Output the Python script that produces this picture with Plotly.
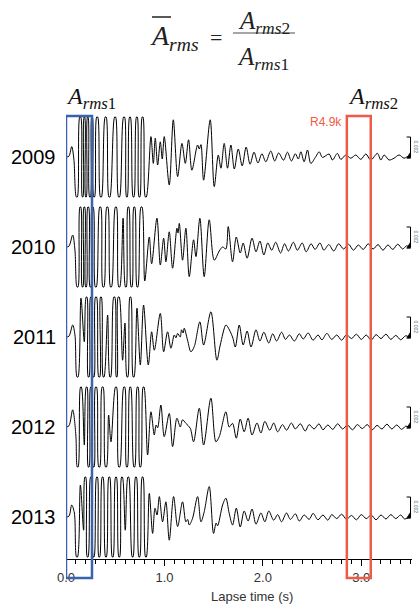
import plotly.graph_objects as go

# ---------------- data ----------------
years = ["2009", "2010", "2011", "2012", "2013"]
time_ticks = [0.0, 1.0, 2.0, 3.0]
time_tick_text = ["0.0", "1.0", "2.0", "3.0"]
box1_t = [0.0, 0.264]      # A_rms1 window (s)
box2_t = [2.853, 3.096]    # A_rms2 window (s)
box2_label = "R4.9k"
scale_label = "0.002"

# (lapse time s, amplitude normalised to clip level = 1)
wave_2009 = [
    (0.000, 0.0), (0.030, 0.02), (0.058, 0.26), (0.080, -0.05),
    (0.105, -1), (0.115, -1), (0.140, 1), (0.150, 1), (0.166, -1), (0.172, -1),
    (0.184, 1), (0.190, 1), (0.200, -1), (0.206, -1), (0.218, 1), (0.224, 1),
    (0.240, -1), (0.248, -1), (0.262, 1), (0.268, 1), (0.282, -1), (0.290, -1),
    (0.312, 1), (0.322, 1), (0.350, -1), (0.360, -1), (0.398, 1), (0.408, 1),
    (0.436, -1), (0.446, -1), (0.494, 1), (0.504, 1), (0.534, -1), (0.544, -1),
    (0.585, 1), (0.595, 1), (0.615, -1), (0.622, -1), (0.646, 1), (0.654, 1),
    (0.682, -1), (0.690, -1), (0.716, 1), (0.724, 1), (0.742, -1), (0.750, -1),
    (0.774, 1), (0.782, 1), (0.806, -1), (0.816, -1),
    (0.863, 0.51), (0.887, -0.16), (0.907, 0.47), (0.931, -0.20), (0.958, 0.38),
    (0.978, -0.05), (0.998, 0.51), (1.049, -0.70), (1.090, 0.93), (1.134, -0.49),
    (1.178, 0.34), (1.212, -0.16), (1.245, 0.43), (1.279, -0.33), (1.337, 0.30),
    (1.354, 0.20), (1.371, 0.31), (1.398, -0.58), (1.465, 0.93), (1.506, -0.74),
    (1.547, 0.05), (1.574, -0.28), (1.607, 0.34), (1.641, -0.28), (1.675, 0.30),
    (1.71, -0.30), (1.75, 0.20), (1.79, -0.22), (1.83, 0.25), (1.87, -0.18),
    (1.91, 0.12), (1.95, -0.15), (1.99, 0.08), (2.03, -0.12), (2.08, 0.15),
    (2.12, -0.10), (2.16, 0.10), (2.21, -0.08), (2.25, 0.12), (2.29, -0.10),
    (2.33, 0.08), (2.36, -0.05), (2.386, 0.13), (2.419, -0.12), (2.453, 0.175),
    (2.487, -0.16), (2.538, 0.01), (2.572, 0.13), (2.605, -0.01), (2.673, 0.075),
    (2.707, -0.075), (2.757, 0.09), (2.792, -0.06), (2.843, 0.05), (2.893, -0.03),
    (2.944, 0.05), (2.995, -0.06), (3.046, 0.075), (3.096, -0.075), (3.164, 0.09),
    (3.198, -0.075), (3.232, 0.05), (3.282, -0.075), (3.333, -0.03), (3.384, 0.05),
    (3.434, -0.03), (3.468, 0.01), (3.485, 0.025),
]

wave_2010 = [
    (0.000, 0.0), (0.030, 0.02), (0.068, 0.30), (0.091, -0.08),
    (0.112, -1), (0.122, -1), (0.142, 1), (0.150, 1), (0.165, -1), (0.172, -1),
    (0.183, 1), (0.190, 1), (0.200, -1), (0.207, -1), (0.222, 1), (0.230, 1),
    (0.244, -1), (0.252, -1), (0.266, 1), (0.276, 1), (0.298, -1), (0.308, -1),
    (0.343, 1), (0.353, 1), (0.375, -1), (0.385, -1), (0.415, 1), (0.425, 1),
    (0.452, -1), (0.462, -1), (0.502, 1), (0.512, 1), (0.536, -1), (0.546, -1),
    (0.580, 0.72), (0.604, -1), (0.612, -1), (0.630, 1), (0.638, 1),
    (0.662, -1), (0.670, -1), (0.690, 1), (0.698, 1), (0.722, -1), (0.730, -1),
    (0.762, 1), (0.772, 1), (0.800, -0.85),
    (0.846, 0.25), (0.870, -0.42), (0.924, 0.72), (0.958, -0.45), (0.992, 0.22),
    (1.015, -0.37), (1.049, 0.38), (1.083, -0.53), (1.127, 0.47), (1.138, 0.35),
    (1.151, 0.59), (1.184, -0.33), (1.218, 0.47), (1.252, -0.74), (1.296, 0.18),
    (1.320, -0.24), (1.360, 0.72), (1.404, -0.74), (1.455, 0.68), (1.506, -0.33),
    (1.557, -0.10), (1.591, 0.0), (1.624, -0.05), (1.648, 0.51), (1.692, -0.37),
    (1.73, 0.25), (1.77, -0.15), (1.80, 0.10), (1.84, -0.28), (1.89, 0.22),
    (1.93, -0.12), (1.97, 0.15), (2.01, -0.20), (2.05, 0.10), (2.09, -0.08),
    (2.13, 0.12), (2.18, -0.15), (2.22, 0.08), (2.26, -0.10), (2.31, 0.12),
    (2.35, -0.08), (2.40, 0.10), (2.44, -0.12), (2.49, 0.08), (2.53, -0.06),
    (2.58, 0.10), (2.62, -0.08), (2.67, 0.06), (2.72, -0.10), (2.77, 0.08),
    (2.82, -0.05), (2.87, 0.07), (2.92, -0.08), (2.97, 0.05), (3.02, -0.06),
    (3.07, 0.08), (3.12, -0.05), (3.17, 0.06), (3.22, -0.08), (3.27, 0.05),
    (3.32, -0.06), (3.37, 0.07), (3.42, -0.05), (3.46, 0.03), (3.485, 0.0),
]

wave_2011 = [
    (0.000, 0.0), (0.030, 0.02), (0.068, 0.30), (0.091, 0.05),
    (0.112, -1), (0.122, -1), (0.152, 0.97), (0.186, -0.12),
    (0.205, 1), (0.213, 1), (0.226, -1), (0.234, -1), (0.250, 1), (0.258, 1),
    (0.277, -1), (0.285, -1), (0.300, 1), (0.310, 1), (0.333, -1), (0.343, -1),
    (0.351, 1), (0.359, 1), (0.378, -1), (0.386, -1), (0.423, 0.55),
    (0.446, -1), (0.454, -1), (0.486, 1), (0.496, 1), (0.512, -1), (0.518, -1),
    (0.530, 1), (0.540, 1), (0.575, -0.58), (0.599, 0.35), (0.620, -1), (0.628, -1),
    (0.650, 1), (0.658, 1), (0.683, -1), (0.691, -1),
    (0.721, 0.72), (0.755, -0.70), (0.788, 0.80), (0.836, -0.70), (0.870, 0.13),
    (0.897, -0.33), (0.958, 0.59), (0.992, -0.37), (1.032, 0.13), (1.066, -0.28),
    (1.100, 0.05), (1.117, -0.02), (1.134, 0.09), (1.160, 0.0), (1.174, 0.18),
    (1.190, 0.10), (1.201, 0.22), (1.235, -0.08), (1.269, -0.37), (1.303, -0.24),
    (1.360, 0.38), (1.398, -0.20), (1.472, 0.63), (1.533, -0.58), (1.567, -0.20),
    (1.624, 0.30), (1.641, 0.26), (1.692, 0.0),
    (1.72, -0.25), (1.76, 0.30), (1.80, -0.20), (1.84, 0.15), (1.88, -0.25),
    (1.93, 0.18), (1.97, -0.10), (2.01, 0.12), (2.06, -0.15), (2.10, 0.08),
    (2.14, -0.10), (2.19, 0.12), (2.23, -0.06), (2.27, 0.05), (2.32, -0.10),
    (2.37, 0.08), (2.41, -0.05), (2.46, 0.10), (2.51, -0.08), (2.56, 0.05),
    (2.60, -0.07), (2.65, 0.09), (2.70, -0.06), (2.75, 0.05), (2.80, -0.08),
    (2.85, 0.06), (2.90, -0.04), (2.95, 0.07), (3.00, -0.06), (3.05, 0.05),
    (3.10, -0.08), (3.15, 0.06), (3.20, -0.04), (3.25, 0.07), (3.30, -0.06),
    (3.35, 0.04), (3.40, -0.07), (3.45, 0.03), (3.485, 0.0),
]

wave_2012 = [
    (0.000, 0.0), (0.030, 0.03), (0.068, 0.43), (0.100, -0.20),
    (0.115, -1), (0.123, -1), (0.148, 1), (0.156, 1), (0.186, -0.45),
    (0.206, 1), (0.214, 1), (0.226, -1), (0.234, -1), (0.250, 1), (0.258, 1),
    (0.277, -1), (0.285, -1), (0.300, 1), (0.310, 1), (0.333, -1), (0.343, -1),
    (0.367, 1), (0.377, 1), (0.401, -1), (0.411, -1), (0.433, 0.30), (0.457, -0.37),
    (0.503, 1), (0.513, 1), (0.536, -1), (0.546, -1), (0.587, 1), (0.597, 1),
    (0.615, -1), (0.623, -1), (0.649, 1), (0.657, 1), (0.690, -1), (0.698, -1),
    (0.724, 1), (0.732, 1), (0.751, -1), (0.759, -1), (0.784, 1), (0.792, 1),
    (0.829, -0.70), (0.863, 0.38), (0.897, -0.20), (0.915, 0.05), (0.931, -0.02),
    (0.964, 0.55), (0.998, -0.24), (1.049, 0.34), (1.083, -0.49), (1.127, 0.22),
    (1.161, 0.0), (1.184, 0.18), (1.218, 0.09), (1.262, -0.03), (1.296, -0.37),
    (1.354, 0.47), (1.398, -0.45), (1.472, 0.72), (1.523, -0.37), (1.557, -0.24),
    (1.624, 0.38), (1.658, 0.0), (1.692, 0.09),
    (1.73, -0.28), (1.77, 0.20), (1.81, -0.12), (1.85, 0.22), (1.89, -0.20),
    (1.94, 0.10), (1.98, -0.15), (2.02, 0.14), (2.07, -0.08), (2.11, 0.10),
    (2.15, -0.12), (2.20, 0.06), (2.24, -0.08), (2.29, 0.10), (2.33, -0.05),
    (2.38, 0.08), (2.43, -0.10), (2.47, 0.06), (2.52, -0.05), (2.57, 0.08),
    (2.61, -0.07), (2.66, 0.05), (2.71, -0.06), (2.76, 0.08), (2.81, -0.05),
    (2.86, 0.05), (2.91, -0.07), (2.96, 0.06), (3.01, -0.04), (3.06, 0.06),
    (3.11, -0.07), (3.16, 0.04), (3.21, -0.05), (3.26, 0.07), (3.31, -0.05),
    (3.36, 0.05), (3.41, -0.06), (3.45, 0.02), (3.485, 0.0),
]

wave_2013 = [
    (0.000, 0.0), (0.030, 0.02), (0.058, 0.30), (0.085, 0.10),
    (0.107, -1), (0.117, -1), (0.146, 0.80), (0.179, -0.33),
    (0.192, 1), (0.200, 1), (0.216, -1), (0.224, -1), (0.250, 1), (0.258, 1),
    (0.277, -1), (0.285, -1), (0.311, 1), (0.319, 1), (0.334, -1), (0.342, -1),
    (0.368, 1), (0.376, 1), (0.402, -1), (0.410, -1), (0.436, 1), (0.444, 1),
    (0.470, -1), (0.478, -1), (0.504, 1), (0.512, 1), (0.537, -1), (0.545, -1),
    (0.565, 1), (0.573, 1), (0.602, -0.33), (0.629, 1), (0.637, 1),
    (0.673, -1), (0.681, -1), (0.707, 1), (0.715, 1), (0.741, -1), (0.749, -1),
    (0.774, 1), (0.782, 1), (0.808, -1), (0.816, -1),
    (0.846, 0.59), (0.880, -0.41), (0.904, 0.22), (0.925, 0.05), (0.948, 0.51),
    (0.981, -0.12), (1.015, 0.38), (1.049, -0.58), (1.093, 0.51), (1.134, -0.24),
    (1.184, 0.38), (1.218, -0.12), (1.236, -0.06), (1.252, -0.20), (1.286, -0.03),
    (1.337, 0.51), (1.371, -0.12), (1.404, 0.13), (1.455, 0.76), (1.499, -0.41),
    (1.525, -0.15), (1.540, -0.22), (1.591, 0.30), (1.624, 0.47), (1.658, 0.09),
    (1.692, -0.20),
    (1.73, 0.22), (1.77, -0.25), (1.81, 0.15), (1.85, -0.10), (1.89, 0.20),
    (1.93, -0.18), (1.98, 0.10), (2.02, -0.12), (2.06, 0.15), (2.11, -0.08),
    (2.15, 0.06), (2.19, -0.12), (2.24, 0.10), (2.28, -0.06), (2.33, 0.08),
    (2.37, -0.10), (2.42, 0.05), (2.47, -0.06), (2.51, 0.09), (2.56, -0.07),
    (2.61, 0.05), (2.66, -0.08), (2.70, 0.06), (2.75, -0.04), (2.80, 0.07),
    (2.85, -0.06), (2.90, 0.04), (2.95, -0.07), (3.00, 0.06), (3.05, -0.04),
    (3.10, 0.05), (3.15, -0.07), (3.20, 0.05), (3.25, -0.05), (3.30, 0.06),
    (3.35, -0.04), (3.40, 0.05), (3.44, -0.05), (3.485, 0.0),
]

waves = [wave_2009, wave_2010, wave_2011, wave_2012, wave_2013]

# ---------------- layout geometry ----------------
W, H = 419, 607
ML, MR, MT, MB = 66, 7, 115, 48
PW, PH = W - ML - MR, H - MT - MB
BAND, GAP = 84, 6


def px_x(px):
    return (px - ML) / PW


def px_y(py):
    return (H - MB - py) / PH


SANS = "Liberation Sans, Arial, sans-serif"
SERIF = "Liberation Serif, Times New Roman, serif"
BLUE = "#3a62ad"
RED = "#ef5b46"

fig = go.Figure()
layout_axes = {}
shapes = []
annotations = []

for i, (yr, w) in enumerate(zip(years, waves)):
    t = [p[0] for p in w]
    a = [p[1] for p in w]
    yname = "y" if i == 0 else f"y{i + 1}"
    ykey = "yaxis" if i == 0 else f"yaxis{i + 1}"
    fig.add_trace(go.Scatter(
        x=t, y=a, mode="lines", xaxis="x", yaxis=yname,
        line=dict(color="black", width=1.0, shape="spline", smoothing=0.9),
        hoverinfo="skip", showlegend=False))
    top = MT + i * (BAND + GAP)
    bot = top + BAND
    layout_axes[ykey] = dict(domain=[px_y(bot), px_y(top)], range=[-1.05, 1.05],
                             visible=False, anchor="x", fixedrange=True)
    base = top + BAND / 2
    annotations.append(dict(text=yr, xref="paper", yref="paper", x=px_x(58), y=px_y(base),
                            xanchor="right", yanchor="middle", showarrow=False,
                            font=dict(family=SANS, size=20, color="black")))
    # amplitude scale bracket at the right end
    shapes.append(dict(type="line", xref="x", yref=yname, x0=3.50, x1=3.50, y0=0.0, y1=0.5,
                       line=dict(color="black", width=1)))
    shapes.append(dict(type="line", xref="x", yref=yname, x0=3.46, x1=3.50, y0=0.5, y1=0.5,
                       line=dict(color="black", width=1)))
    shapes.append(dict(type="path", xref="x", yref=yname,
                       path="M 3.462,-0.03 L 3.50,-0.03 L 3.50,0.12 Z",
                       fillcolor="black", line=dict(color="black", width=0.8)))
    annotations.append(dict(text=scale_label, xref="paper", yref="paper", x=px_x(415.5),
                            y=px_y(base - 10), textangle=90, showarrow=False,
                            xanchor="center", yanchor="middle",
                            font=dict(family=SANS, size=5, color="#555")))

# analysis windows
shapes.append(dict(type="rect", xref="x", yref="paper", x0=box1_t[0], x1=box1_t[1],
                   y0=px_y(578), y1=px_y(116), line=dict(color=BLUE, width=2.5),
                   fillcolor="rgba(0,0,0,0)"))
shapes.append(dict(type="rect", xref="x", yref="paper", x0=box2_t[0], x1=box2_t[1],
                   y0=px_y(578), y1=px_y(116), line=dict(color=RED, width=2.5),
                   fillcolor="rgba(0,0,0,0)"))

annotations.append(dict(text=box2_label, xref="paper", yref="paper", x=px_x(344), y=px_y(122),
                        xanchor="right", yanchor="middle", showarrow=False,
                        font=dict(family=SANS, size=12, color=RED)))

# window labels
annotations.append(dict(text="<i>A</i><sub><i>rms</i>1</sub>", xref="paper", yref="paper",
                        x=px_x(64), y=px_y(98), xanchor="left", yanchor="middle", showarrow=False,
                        font=dict(family=SERIF, size=24, color="#111")))
annotations.append(dict(text="<i>A</i><sub><i>rms</i>2</sub>", xref="paper", yref="paper",
                        x=px_x(346), y=px_y(98), xanchor="left", yanchor="middle", showarrow=False,
                        font=dict(family=SERIF, size=24, color="#111")))

# formula
annotations.append(dict(text="<i>A</i><sub><i>rms</i></sub>", xref="paper", yref="paper",
                        x=px_x(148), y=px_y(37), xanchor="left", yanchor="middle", showarrow=False,
                        font=dict(family=SERIF, size=28, color="#222")))
annotations.append(dict(text="=", xref="paper", yref="paper",
                        x=px_x(216), y=px_y(37), xanchor="center", yanchor="middle", showarrow=False,
                        font=dict(family=SERIF, size=22, color="#222")))
annotations.append(dict(text="<i>A</i><sub><i>rms</i>2</sub>", xref="paper", yref="paper",
                        x=px_x(264), y=px_y(22), xanchor="center", yanchor="middle", showarrow=False,
                        font=dict(family=SERIF, size=25, color="#222")))
annotations.append(dict(text="<i>A</i><sub><i>rms</i>1</sub>", xref="paper", yref="paper",
                        x=px_x(263), y=px_y(59), xanchor="center", yanchor="middle", showarrow=False,
                        font=dict(family=SERIF, size=25, color="#222")))
shapes.append(dict(type="line", xref="paper", yref="paper", x0=px_x(152), x1=px_x(171),
                   y0=px_y(17), y1=px_y(17), line=dict(color="#222", width=1.5)))
shapes.append(dict(type="line", xref="paper", yref="paper", x0=px_x(233), x1=px_x(295),
                   y0=px_y(33), y1=px_y(33), line=dict(color="#888", width=1.5)))

# x axis title
annotations.append(dict(text="Lapse time (s)", xref="paper", yref="paper", x=px_x(252), y=px_y(596),
                        xanchor="center", yanchor="middle", showarrow=False,
                        font=dict(family=SANS, size=13, color="#333")))

fig.update_layout(
    width=W, height=H,
    margin=dict(l=ML, r=MR, t=MT, b=MB, autoexpand=False),
    paper_bgcolor="white", plot_bgcolor="white",
    xaxis=dict(domain=[0, 1], anchor="y5", range=[0, 3.515],
               tickmode="array", tickvals=time_ticks, ticktext=time_tick_text,
               ticks="outside", ticklen=6, tickwidth=1, tickcolor="black",
               minor=dict(dtick=0.1, tick0=0, ticks="outside", ticklen=4, tickwidth=1, tickcolor="black"),
               showline=True, linecolor="black", linewidth=1,
               showgrid=False, zeroline=False, fixedrange=True,
               tickfont=dict(family=SANS, size=13, color="#333")),
    shapes=shapes, annotations=annotations,
    **layout_axes,
)

fig.write_html("out.html", config={"displayModeBar": False},
               post_script="document.body.style.margin='0';document.body.style.overflow='hidden';")
